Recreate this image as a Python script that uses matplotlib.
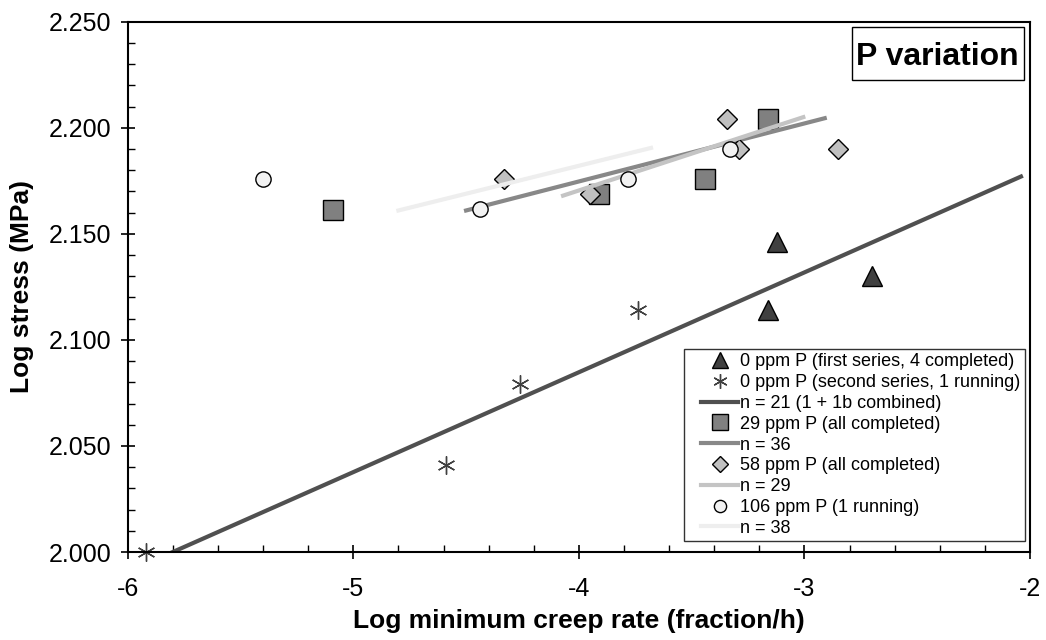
import matplotlib
matplotlib.use("Agg")
import matplotlib.pyplot as plt
from matplotlib.lines import Line2D
from matplotlib.patches import Rectangle
from matplotlib.legend_handler import HandlerLine2D
from matplotlib.ticker import MultipleLocator, FormatStrFormatter

plt.rcParams['font.family'] = ['Liberation Sans', 'DejaVu Sans']
plt.rcParams['axes.unicode_minus'] = False

# 0 ppm P, first series (triangles)
p0a_x = [-3.16, -2.70, -3.12]
p0a_y = [2.114, 2.130, 2.146]
# 0 ppm P, second series (asterisks)
p0b_x = [-5.92, -4.59, -4.26, -3.74]
p0b_y = [2.000, 2.041, 2.079, 2.114]
# n = 21 fit
fit21_x = [-5.80, -2.04]
fit21_y = [2.000, 2.177]

# 29 ppm P (squares)
p29_x = [-5.09, -3.91, -3.44, -3.16]
p29_y = [2.161, 2.169, 2.176, 2.204]
fit36_x = [-4.50, -2.91]
fit36_y = [2.161, 2.2045]

# 58 ppm P (diamonds)
p58_x = [-4.33, -3.95, -3.345, -3.29, -2.85]
p58_y = [2.176, 2.169, 2.204, 2.190, 2.190]
fit29_x = [-4.07, -3.005]
fit29_y = [2.168, 2.205]

# 106 ppm P (circles)
p106_x = [-5.40, -4.44, -3.78, -3.33]
p106_y = [2.176, 2.1615, 2.176, 2.190]
fit38_x = [-4.80, -3.68]
fit38_y = [2.161, 2.1905]

fig = plt.figure(figsize=(10.46, 6.4), dpi=100)
ax = fig.add_axes([0.1221, 0.1375, 0.8626, 0.8286])

ax.plot(p0a_x, p0a_y, linestyle='none', marker='^', ms=15, mfc='#404040',
        mec='black', mew=1, label='0 ppm P (first series, 4 completed)')
ax.plot(p0b_x, p0b_y, linestyle='none', marker=(6, 2, 0), ms=13, mec='#404040',
        mew=1, label='0 ppm P (second series, 1 running)', clip_on=False)
ax.plot(fit21_x, fit21_y, color='#505050', lw=3, label='n = 21 (1 + 1b combined)')
ax.plot(p29_x, p29_y, linestyle='none', marker='s', ms=14, mfc='#808080',
        mec='black', mew=1, label='29 ppm P (all completed)')
ax.plot(fit36_x, fit36_y, color='#888888', lw=3, label='n = 36')
ax.plot(p58_x, p58_y, linestyle='none', marker='D', ms=10.5, mfc='#c0c0c0',
        mec='black', mew=1, label='58 ppm P (all completed)')
ax.plot(fit29_x, fit29_y, color='#c4c4c4', lw=3, label='n = 29')
ax.plot(p106_x, p106_y, linestyle='none', marker='o', ms=11, mfc='#f2f2f2',
        mec='black', mew=1, label='106 ppm P (1 running)')
ax.plot(fit38_x, fit38_y, color='#eeeeee', lw=3, label='n = 38')

ax.set_xlim(-6, -2)
ax.set_ylim(2.0, 2.25)
ax.xaxis.set_major_locator(MultipleLocator(1))
ax.xaxis.set_minor_locator(MultipleLocator(0.2))
ax.yaxis.set_major_locator(MultipleLocator(0.05))
ax.yaxis.set_minor_locator(MultipleLocator(0.01))
ax.yaxis.set_major_formatter(FormatStrFormatter('%.3f'))
ax.tick_params(which='major', direction='inout', length=10, width=1.2,
               labelsize=18, colors='black')
ax.tick_params(axis='x', which='major', pad=13)
ax.tick_params(axis='y', which='major', pad=7)
ax.tick_params(which='minor', direction='in', length=5, width=1)
for s in ax.spines.values():
    s.set_linewidth(1.5)

ax.set_xlabel('Log minimum creep rate (fraction/h)', fontsize=19, fontweight='bold',
              labelpad=6)
ax.set_ylabel('Log stress (MPa)', fontsize=19, fontweight='bold', labelpad=10)

# legend: extra room left of the handles like the original
leg = ax.legend(loc='lower right', bbox_to_anchor=(0.9945, 0.0207), borderaxespad=0,
                fontsize=13, frameon=True, fancybox=False, edgecolor='black',
                markerscale=0.8, handlelength=2.75, handletextpad=0.11,
                labelspacing=0.21, borderpad=0.24,
                handler_map={Line2D: HandlerLine2D(xpad=0.70)})
leg.get_frame().set_linewidth(1.0)

# "P variation" box
ax.add_patch(Rectangle((0.8024, 0.8901), 0.1913, 0.0993, transform=ax.transAxes,
                       fc='white', ec='black', lw=1, zorder=5))
ax.text(0.8975, 0.9183, 'P variation', transform=ax.transAxes, ha='center',
        va='baseline', fontsize=23, fontweight='bold', zorder=6)

fig.savefig('out.png', dpi=100)
